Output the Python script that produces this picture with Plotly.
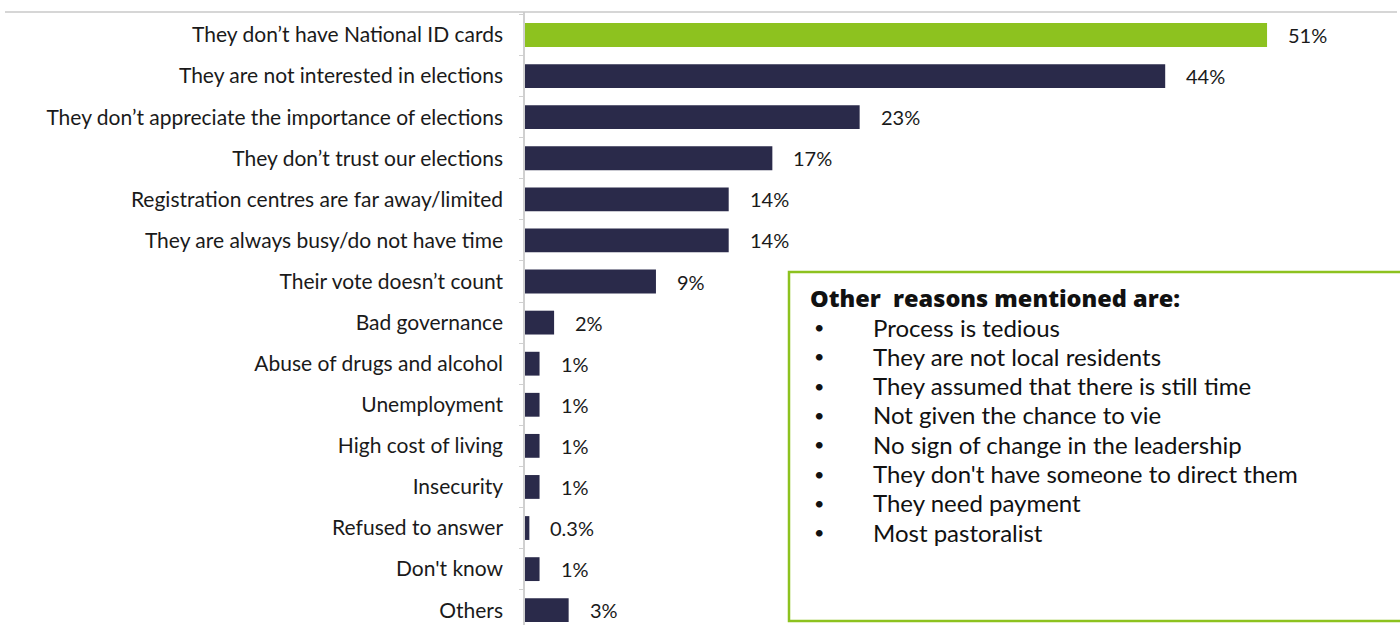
import plotly.graph_objects as go

# Reasons for not registering as voters (share of respondents, %)
reasons = [
    "They don’t have National ID cards",
    "They are not interested in elections",
    "They don’t appreciate the importance of elections",
    "They don’t trust our elections",
    "Registration centres are far away/limited",
    "They are always busy/do not have time",
    "Their vote doesn’t count",
    "Bad governance",
    "Abuse of drugs and alcohol",
    "Unemployment",
    "High cost of living",
    "Insecurity",
    "Refused to answer",
    "Don't know",
    "Others",
]
shares = [51, 44, 23, 17, 14, 14, 9, 2, 1, 1, 1, 1, 0.3, 1, 3]
share_labels = ["51%", "44%", "23%", "17%", "14%", "14%", "9%", "2%", "1%",
                "1%", "1%", "1%", "0.3%", "1%", "3%"]

other_title = "Other  reasons mentioned are:"
other_reasons = [
    "Process is tedious",
    "They are not local residents",
    "They assumed that there is still time",
    "Not given the chance to vie",
    "No sign of change in the leadership",
    "They don't have someone to direct them",
    "They need payment",
    "Most pastoralist",
]

GREEN = "#8dc21f"
NAVY = "#2a2a4a"
FONT = "Lato"

W, H = 1400, 625
ML, MR, MT, MB = 525, 0, 12, 0
PW, PH = W - ML - MR, H - MT - MB


def px_x(x):
    return (x - ML) / PW


def px_y(y):
    return (H - MB - y) / PH


colors = [GREEN] + [NAVY] * (len(reasons) - 1)

fig = go.Figure()
fig.add_trace(go.Bar(
    x=shares, y=reasons, orientation="h",
    marker=dict(color=colors, line=dict(width=0)),
    width=0.58, hoverinfo="skip",
))

# value labels to the right of each bar
for r, v, lab in zip(reasons, shares, share_labels):
    fig.add_annotation(x=v, y=r, text=lab, showarrow=False, xanchor="left",
                       xshift=19, font=dict(family=FONT, size=20, color="#1a1a1a"))

# box listing the other reasons
fig.add_shape(type="rect", xref="paper", yref="paper",
              x0=px_x(789), x1=px_x(1405), y0=px_y(621), y1=px_y(272),
              line=dict(color=GREEN, width=2.5), fillcolor="rgba(0,0,0,0)")
fig.add_annotation(xref="paper", yref="paper", x=px_x(808), y=px_y(298),
                   text=other_title, showarrow=False,
                   xanchor="left", yanchor="middle",
                   font=dict(family="Open Sans", size=23.5, weight=800, color="#111111"))
for i, item in enumerate(other_reasons):
    yy = px_y(327 + i * 29.3)
    fig.add_annotation(xref="paper", yref="paper", x=px_x(812), y=yy, text="•",
                       showarrow=False, xanchor="left", yanchor="middle",
                       font=dict(family=FONT, size=18, color="#111111"))
    fig.add_annotation(xref="paper", yref="paper", x=px_x(871), y=yy, text=item,
                       showarrow=False, xanchor="left", yanchor="middle",
                       font=dict(family=FONT, size=24, color="#111111"))

# thin rule along the top of the chart
fig.add_shape(type="line", xref="paper", yref="paper",
              x0=px_x(5), x1=px_x(1397), y0=1, y1=1,
              line=dict(color="#c8c8c8", width=1.5))

fig.update_layout(
    width=W, height=H,
    margin=dict(l=ML, r=MR, t=MT, b=MB, pad=0),
    paper_bgcolor="white", plot_bgcolor="white",
    showlegend=False,
    bargap=0.42,
    xaxis=dict(range=[0, PW / 14.55], visible=False, fixedrange=True),
    yaxis=dict(
        type="category", categoryorder="array", categoryarray=reasons,
        range=[14.36, -0.56],
        showline=True, linecolor="#d0d0d0", linewidth=1.5,
        ticks="outside", ticklen=4, tickcolor="#d0d0d0", tickson="boundaries",
        ticklabelstandoff=16,
        tickfont=dict(family=FONT, size=21, color="#1a1a1a"),
        showgrid=False, zeroline=False, fixedrange=True,
    ),
)

fig.write_html("out.html")
